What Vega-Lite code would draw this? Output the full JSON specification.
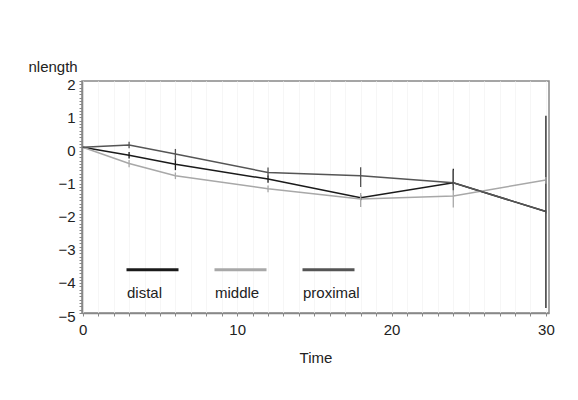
{
  "$schema": "https://vega.github.io/schema/vega-lite/v6.json",
  "autosize": "none",
  "width": 467,
  "height": 232,
  "padding": {"left": 82, "top": 81, "right": 29, "bottom": 87},
  "background": "white",
  "config": {
    "font": "Liberation Sans",
    "view": {"stroke": "#888888", "strokeWidth": 1.5},
    "axis": {"domainColor": "#888888", "domainWidth": 1.5, "tickColor": "#888888", "labelColor": "#222222", "titleColor": "#222222", "labelFontSize": 15, "titleFontSize": 15, "titleFontWeight": "normal", "labelOverlap": false}
  },
  "data": {
    "values": [
      {"series": "distal", "time": 0, "value": 0, "lo": 0, "hi": 0},
      {"series": "distal", "time": 3, "value": -0.24, "lo": -0.34, "hi": -0.14},
      {"series": "distal", "time": 6, "value": -0.51, "lo": -0.69, "hi": -0.35},
      {"series": "distal", "time": 12, "value": -0.96, "lo": -1.07, "hi": -0.85},
      {"series": "distal", "time": 18, "value": -1.52, "lo": -1.6, "hi": -1.45},
      {"series": "distal", "time": 24, "value": -1.07, "lo": -1.15, "hi": -0.65},
      {"series": "distal", "time": 30, "value": -1.94, "lo": -4.85, "hi": 0.95},
      {"series": "middle", "time": 0, "value": 0, "lo": 0, "hi": 0},
      {"series": "middle", "time": 3, "value": -0.49, "lo": -0.6, "hi": -0.38},
      {"series": "middle", "time": 6, "value": -0.86, "lo": -0.96, "hi": -0.76},
      {"series": "middle", "time": 12, "value": -1.25, "lo": -1.36, "hi": -1.15},
      {"series": "middle", "time": 18, "value": -1.56, "lo": -1.8, "hi": -1.38},
      {"series": "middle", "time": 24, "value": -1.47, "lo": -1.82, "hi": -1.1},
      {"series": "middle", "time": 30, "value": -0.99, "lo": -1.1, "hi": -0.9},
      {"series": "proximal", "time": 0, "value": 0, "lo": 0, "hi": 0},
      {"series": "proximal", "time": 3, "value": 0.07, "lo": -0.03, "hi": 0.17},
      {"series": "proximal", "time": 6, "value": -0.2, "lo": -0.4, "hi": -0.05},
      {"series": "proximal", "time": 12, "value": -0.76, "lo": -0.9, "hi": -0.61},
      {"series": "proximal", "time": 18, "value": -0.86, "lo": -1.2, "hi": -0.6},
      {"series": "proximal", "time": 24, "value": -1.07, "lo": -1.3, "hi": -0.69},
      {"series": "proximal", "time": 30, "value": -1.94, "lo": -2.0, "hi": -1.9}
    ]
  },
  "encoding": {
    "x": {
      "field": "time", "type": "quantitative",
      "scale": {"domain": [-0.05, 30.2], "nice": false, "zero": false},
      "axis": {
        "title": "Time",
        "values": [0,1,2,3,4,5,6,7,8,9,10,11,12,13,14,15,16,17,18,19,20,21,22,23,24,25,26,27,28,29,30],
        "tickCount": 100,
        "labelExpr": "datum.value % 10 == 0 ? format(datum.value, 'd') : ''",
        "tickSize": 3, "labelPadding": 6, "titlePadding": 13,
        "grid": true, "gridColor": "#f6f6f6", "labelFlush": false
      }
    },
    "color": {
      "field": "series", "type": "nominal",
      "scale": {"domain": ["distal", "middle", "proximal"], "range": ["#1a1a1a", "#a8a8a8", "#555555"]},
      "legend": {
        "orient": "none", "legendX": 43, "legendY": 161,
        "direction": "horizontal", "title": null,
        "symbolType": "stroke", "symbolSize": 2704, "symbolStrokeWidth": 3,
        "labelFontSize": 15, "labelColor": "#222222", "labelOffset": 0,
        "columnPadding": 23,
        "encode": {"labels": {"update": {"dx": {"value": -53}, "dy": {"value": 23}}}}
      }
    }
  },
  "layer": [
    {
      "mark": {"type": "line", "strokeWidth": 1.5},
      "encoding": {
        "y": {
          "field": "value", "type": "quantitative",
          "scale": {"domain": [-5, 2], "nice": false, "zero": false},
          "axis": {
            "title": "nlength",
            "values": [-5,-4.9,-4.8,-4.7,-4.6,-4.5,-4.4,-4.3,-4.2,-4.1,-4,-3.9,-3.8,-3.7,-3.6,-3.5,-3.4,-3.3,-3.2,-3.1,-3,-2.9,-2.8,-2.7,-2.6,-2.5,-2.4,-2.3,-2.2,-2.1,-2,-1.9,-1.8,-1.7,-1.6,-1.5,-1.4,-1.3,-1.2,-1.1,-1,-0.9,-0.8,-0.7,-0.6,-0.5,-0.4,-0.3,-0.2,-0.1,0,0.1,0.2,0.3,0.4,0.5,0.6,0.7,0.8,0.9,1,1.1,1.2,1.3,1.4,1.5,1.6,1.7,1.8,1.9,2],
            "tickCount": 200,
            "labelExpr": "abs(datum.value - round(datum.value)) < 0.001 ? replace(format(round(datum.value), 'd'), '-', '\u2212') : ''",
            "tickSize": 3, "labelPadding": 4, "labelOffset": 3, "grid": false,
            "titleAngle": 0, "titleAlign": "left", "titleBaseline": "alphabetic",
            "titleX": -54, "titleY": -10
          }
        }
      }
    },
    {
      "mark": {"type": "rule", "strokeWidth": 1.3},
      "encoding": {
        "y": {"field": "lo", "type": "quantitative"},
        "y2": {"field": "hi"}
      }
    }
  ]
}
